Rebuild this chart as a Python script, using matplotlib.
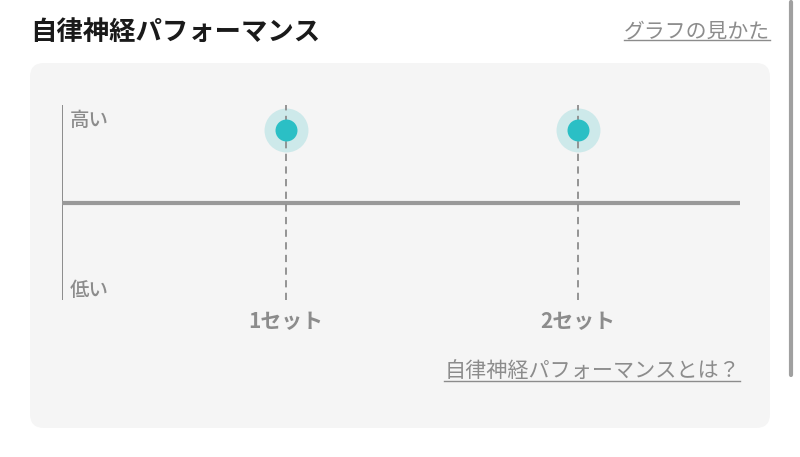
import numpy as np
import matplotlib.pyplot as plt
from matplotlib.patches import FancyBboxPatch

plt.rcParams['font.family'] = ['Noto Sans CJK JP', 'DejaVu Sans']

# data
sets = [1, 2]
set_labels = ['1セット', '2セット']
values = [0.87, 0.87]          # 0 = 低い, 1 = 高い, 0.5 = midline

title = '自律神経パフォーマンス'
link_top = 'グラフの見かた'
link_bottom = '自律神経パフォーマンスとは？'

gray = '#8c8c8c'

fig = plt.figure(figsize=(8.0, 4.57), dpi=100)
fig.patch.set_facecolor('white')

# background canvas in pixel coords
bg = fig.add_axes([0, 0, 1, 1])
bg.set_xlim(0, 800)
bg.set_ylim(457, 0)
bg.axis('off')

card = FancyBboxPatch((30, 63), 740, 365, boxstyle='round,pad=0,rounding_size=14',
                      facecolor='#f5f5f5', edgecolor='none')
bg.add_patch(card)

# scrollbar on the right
bg.plot([791, 791], [2, 375], color='#a0a0a0', lw=3, solid_capstyle='round')

bg.text(30, 32, title, fontsize=19, fontweight='bold', color='#1a1a1a',
        va='center', ha='left')
t1 = bg.text(770, 31, link_top, fontsize=15, color=gray, va='center', ha='right')
t2 = bg.text(740, 372, link_bottom, fontsize=15.2, color=gray, va='center', ha='right')

# chart area
ax = fig.add_axes([62 / 800, (457 - 300) / 457, 678 / 800, 195 / 457])
ax.set_facecolor('none')
ax.set_xlim(0.233, 2.555)
ax.set_ylim(0, 1)
ax.axis('off')

ax.axvline(0.233, color=gray, lw=1.4)
ax.axhline(0.5, color='#999999', lw=3)
ax.scatter(sets, values, s=1000, color='#cde9ea', zorder=2, linewidths=0, clip_on=False)
for x in sets:
    ax.axvline(x, color=gray, lw=1.3, ls=(0, (4, 3)), zorder=3)
ax.scatter(sets, values, s=250, color='#2bbfc5', zorder=4, linewidths=0, clip_on=False)

ax.text(0.26, 0.92, '高い', fontsize=14, color=gray, fontweight='medium',
        va='center', ha='left')
ax.text(0.26, 0.05, '低い', fontsize=14, color=gray, fontweight='medium',
        va='center', ha='left')
for x, lab in zip(sets, set_labels):
    ax.text(x, -0.11, lab, fontsize=15, color=gray, fontweight='bold',
            va='center', ha='center')

# underline the links
fig.canvas.draw()
r = fig.canvas.get_renderer()
inv = bg.transData.inverted()
for t in (t1, t2):
    bb = t.get_window_extent(r)
    (x0, y0), (x1, y1) = inv.transform([[bb.x0, bb.y0], [bb.x1, bb.y1]])
    bg.plot([x0, x1], [y0 - 2, y0 - 2], color=gray, lw=1)

fig.savefig('out.png', dpi=100)
